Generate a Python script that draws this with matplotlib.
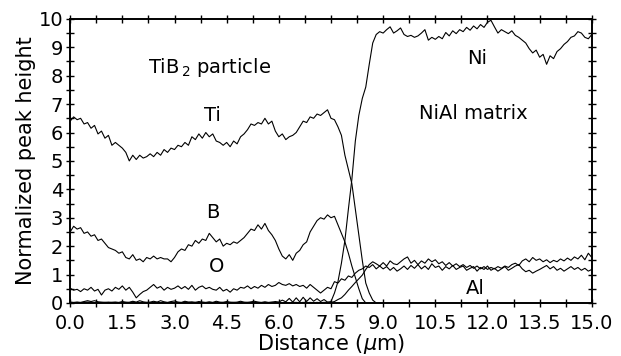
import matplotlib.pyplot as plt
import numpy as np
from matplotlib.ticker import MultipleLocator

# distance grid of the line scan (um), 0.1 um steps
dist = np.round(np.arange(151) * 0.1, 1)

# Ti signal, 0.0 .. 8.8 um
ti = [6.40, 6.55, 6.45, 6.50, 6.30, 6.35, 6.15, 6.25, 5.95, 6.05,
      5.80, 5.90, 5.55, 5.65, 5.55, 5.45, 5.30, 5.00, 5.20, 5.05,
      5.20, 5.10, 5.15, 5.25, 5.15, 5.30, 5.20, 5.40, 5.30, 5.45,
      5.40, 5.55, 5.50, 5.65, 5.55, 5.85, 5.75, 5.95, 5.80, 6.00,
      5.85, 5.95, 5.70, 5.65, 5.55, 5.65, 5.50, 5.70, 5.60, 5.85,
      5.95, 6.10, 6.30, 6.25, 6.35, 6.30, 6.50, 6.30, 6.40, 6.05,
      5.85, 5.95, 5.75, 5.85, 5.90, 6.00, 6.20, 6.40, 6.35, 6.55,
      6.50, 6.65, 6.60, 6.70, 6.80, 6.50, 6.45, 6.20, 5.90, 5.20,
      4.70, 4.20, 3.30, 2.40, 1.50, 0.70, 0.35, 0.10, 0.00]

# B signal, 0.0 .. 8.5 um
b = [2.50, 2.70, 2.60, 2.65, 2.45, 2.50, 2.35, 2.40, 2.20, 2.25,
     2.10, 1.95, 1.90, 1.85, 1.75, 1.80, 1.60, 1.55, 1.70, 1.50,
     1.55, 1.45, 1.60, 1.55, 1.65, 1.55, 1.60, 1.55, 1.55, 1.45,
     1.60, 1.80, 1.90, 1.85, 2.05, 2.00, 2.20, 2.10, 2.25, 2.20,
     2.45, 2.30, 2.15, 2.25, 2.00, 2.10, 2.05, 2.15, 2.10, 2.20,
     2.30, 2.45, 2.60, 2.55, 2.75, 2.60, 2.80, 2.55, 2.40, 2.20,
     1.90, 1.65, 1.55, 1.70, 1.50, 1.75, 1.85, 2.05, 2.15, 2.50,
     2.70, 2.90, 3.00, 2.95, 3.10, 3.00, 3.05, 2.75, 2.45, 2.15,
     1.75, 1.30, 0.90, 0.50, 0.15, 0.00]

# O signal, full scan
o = [0.52, 0.45, 0.48, 0.40, 0.50, 0.45, 0.55, 0.42, 0.48, 0.28,
     0.45, 0.50, 0.42, 0.55, 0.48, 0.60, 0.45, 0.55, 0.38, 0.18,
     0.30, 0.40, 0.45, 0.55, 0.65, 0.52, 0.58, 0.45, 0.55, 0.48,
     0.52, 0.60, 0.50, 0.58, 0.48, 0.62, 0.45, 0.55, 0.60, 0.50,
     0.55, 0.48, 0.45, 0.55, 0.42, 0.48, 0.38, 0.50, 0.45, 0.55,
     0.52, 0.60, 0.50, 0.58, 0.52, 0.62, 0.55, 0.65, 0.58, 0.62,
     0.72, 0.65, 0.62, 0.68, 0.60, 0.65, 0.58, 0.62, 0.52, 0.65,
     0.55, 0.45, 0.35, 0.45, 0.55, 0.50, 0.75, 0.70, 0.85, 0.80,
     0.95, 0.90, 1.05, 1.15, 1.20, 1.30, 1.25, 1.35, 1.20, 1.30,
     1.20, 1.28, 1.15, 1.25, 1.12, 1.20, 1.30, 1.18, 1.32, 1.22,
     1.35, 1.20, 1.30, 1.18, 1.38, 1.25, 1.30, 1.15, 1.28, 1.20,
     1.32, 1.18, 1.25, 1.30, 1.15, 1.22, 1.28, 1.12, 1.25, 1.18,
     1.30, 1.15, 1.22, 1.12, 1.20, 1.28, 1.15, 1.22, 1.30, 1.35,
     1.20, 1.10, 1.15, 1.05, 1.12, 1.18, 1.25, 1.32, 1.20, 1.28,
     1.15, 1.22, 1.12, 1.20, 1.28, 1.18, 1.25, 1.15, 1.22, 1.12,
     1.18]

# Al signal, full scan
al = [0.03, 0.02, 0.03, 0.02, 0.05, 0.08, 0.05, 0.08, 0.04, 0.03,
      0.02, 0.03, 0.02, 0.03, 0.02, 0.05, 0.03, 0.02, 0.06, 0.03,
      0.08, 0.04, 0.02, 0.03, 0.06, 0.03, 0.08, 0.04, 0.02, 0.05,
      0.07, 0.03, 0.02, 0.06, 0.03, 0.04, 0.02, 0.05, 0.03, 0.02,
      0.04, 0.02, 0.06, 0.03, 0.02, 0.05, 0.03, 0.02, 0.03, 0.06,
      0.03, 0.02, 0.04, 0.06, 0.03, 0.02, 0.04, 0.02, 0.03, 0.05,
      0.03, 0.10, 0.04, 0.16, 0.03, 0.18, 0.04, 0.20, 0.05, 0.18,
      0.06, 0.15, 0.05, 0.12, 0.03, 0.02, 0.05, 0.12, 0.18, 0.30,
      0.45, 0.58, 0.72, 0.85, 0.98, 1.18, 1.35, 1.45, 1.38, 1.30,
      1.42, 1.30, 1.48, 1.38, 1.35, 1.45, 1.55, 1.62, 1.40, 1.50,
      1.35, 1.48, 1.40, 1.55, 1.45, 1.52, 1.38, 1.45, 1.32, 1.42,
      1.30, 1.38, 1.28, 1.35, 1.25, 1.32, 1.22, 1.30, 1.20, 1.28,
      1.18, 1.25, 1.20, 1.28, 1.22, 1.30, 1.25, 1.35, 1.40, 1.32,
      1.48, 1.55, 1.45, 1.60, 1.50, 1.55, 1.45, 1.52, 1.42, 1.50,
      1.45, 1.55, 1.48, 1.58, 1.50, 1.62, 1.55, 1.68, 1.52, 1.75,
      1.60]

# Ni signal, full scan
ni = [0.02, 0.01, 0.02, 0.01, 0.02, 0.03, 0.02, 0.01, 0.02, 0.01,
      0.02, 0.01, 0.02, 0.02, 0.01, 0.02, 0.01, 0.02, 0.03, 0.01,
      0.02, 0.01, 0.02, 0.01, 0.02, 0.02, 0.01, 0.02, 0.01, 0.02,
      0.01, 0.02, 0.01, 0.02, 0.02, 0.01, 0.02, 0.01, 0.02, 0.01,
      0.02, 0.01, 0.02, 0.01, 0.02, 0.02, 0.01, 0.02, 0.01, 0.02,
      0.01, 0.02, 0.01, 0.02, 0.02, 0.01, 0.02, 0.01, 0.02, 0.01,
      0.02, 0.01, 0.02, 0.01, 0.02, 0.02, 0.01, 0.02, 0.01, 0.02,
      0.01, 0.02, 0.01, 0.02, 0.02, 0.05, 0.35, 0.75, 1.40, 2.20,
      3.30, 4.35, 5.70, 6.60, 7.20, 7.60, 8.40, 9.15, 9.45, 9.55,
      9.50, 9.62, 9.72, 9.50, 9.58, 9.68, 9.45, 9.38, 9.42, 9.35,
      9.40, 9.50, 9.62, 9.25, 9.35, 9.28, 9.38, 9.30, 9.52, 9.40,
      9.58, 9.48, 9.62, 9.55, 9.70, 9.60, 9.75, 9.65, 9.80, 9.70,
      9.88, 9.95, 9.72, 9.50, 9.62, 9.55, 9.48, 9.58, 9.42, 9.35,
      9.25, 9.15, 8.95, 8.80, 8.90, 8.65, 8.75, 8.40, 8.70, 8.60,
      8.85, 8.95, 9.10, 9.20, 9.35, 9.40, 9.55, 9.50, 9.35, 9.30,
      9.45]

x_ticks = [0.0, 1.5, 3.0, 4.5, 6.0, 7.5, 9.0, 10.5, 12.0, 13.5, 15.0]

plt.rcParams["font.family"] = ["DejaVu Sans"]

fig = plt.figure(figsize=(6.21, 3.56), dpi=100)
ax = fig.add_axes([0.113, 0.149, 0.840, 0.798])

for series in (ti, b, o, al, ni):
    ax.plot(dist[:len(series)], series, color="black", lw=0.8)

ax.set_xlim(0, 15)
ax.set_ylim(0, 10)
ax.set_xticks(x_ticks)
ax.set_xticklabels([f"{v:.1f}" for v in x_ticks])
ax.xaxis.set_minor_locator(MultipleLocator(0.75))
ax.yaxis.set_major_locator(MultipleLocator(1))
ax.yaxis.set_minor_locator(MultipleLocator(0.5))
ax.tick_params(which="both", direction="inout", length=6, width=1,
               top=True, right=True, labelsize=14)
ax.tick_params(axis="x", pad=5)
ax.tick_params(axis="y", pad=2)
for sp in ax.spines.values():
    sp.set_linewidth(1.4)

ax.set_xlabel("Distance ($\\mu$m)", fontsize=15, labelpad=-1)
ax.set_ylabel("Normalized peak height", fontsize=15, labelpad=2)

ax.text(4.0, 8.3, "TiB$_{\\,2}$ particle", fontsize=14, ha="center", va="center")
ax.text(4.08, 6.6, "Ti", fontsize=14, ha="center", va="center")
ax.text(4.11, 3.17, "B", fontsize=14, ha="center", va="center")
ax.text(4.22, 1.27, "O", fontsize=14, ha="center", va="center")
ax.text(11.7, 8.62, "Ni", fontsize=14, ha="center", va="center")
ax.text(11.6, 6.68, "NiAl matrix", fontsize=14, ha="center", va="center")
ax.text(11.64, 0.52, "Al", fontsize=14, ha="center", va="center")

fig.savefig("out.png", dpi=100)
